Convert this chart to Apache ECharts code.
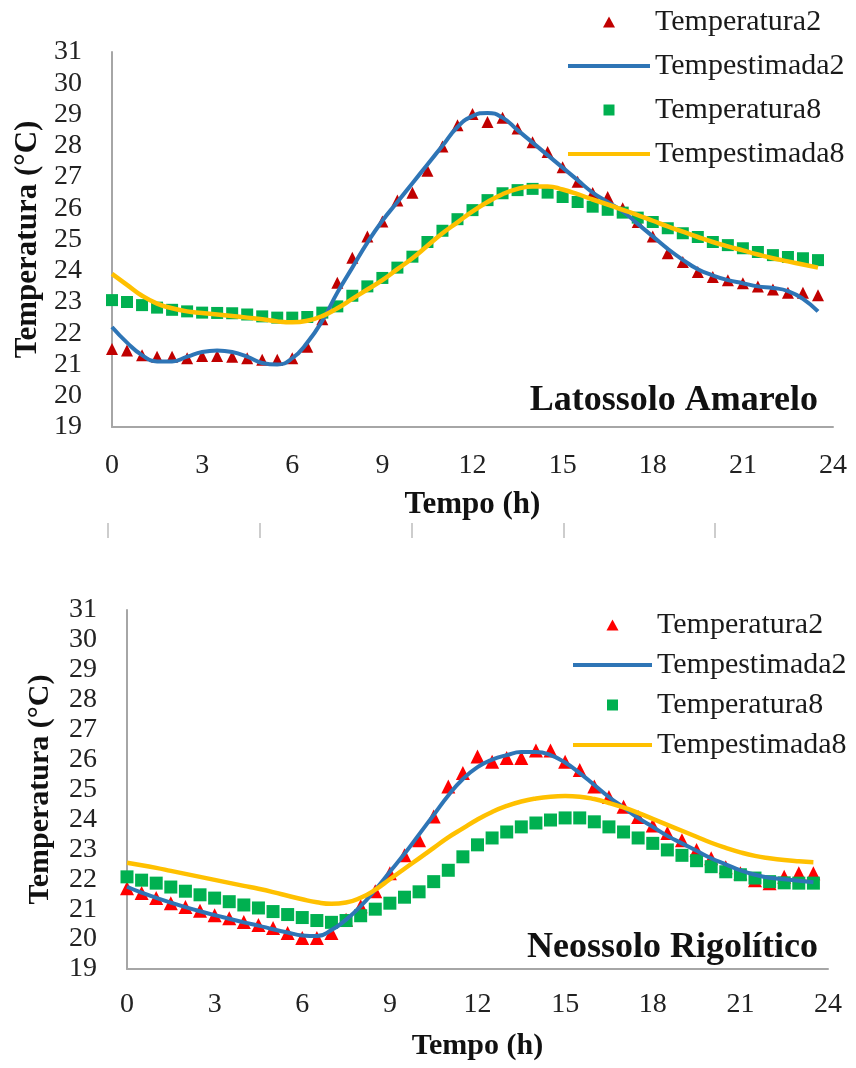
<!DOCTYPE html>
<html>
<head>
<meta charset="utf-8">
<script src="https://cdn.jsdelivr.net/npm/echarts@6/dist/echarts.min.js"></script>
<style>
  html, body { margin: 0; padding: 0; background: #fff; }
  #chart { width: 856px; height: 1068px; }
</style>
</head>
<body>
<div id="chart"></div>
<script>
// time of day (h), one reading every half hour
const hours = [0, 0.5, 1, 1.5, 2, 2.5, 3, 3.5, 4, 4.5, 5, 5.5, 6, 6.5, 7, 7.5, 8, 8.5, 9, 9.5,
  10, 10.5, 11, 11.5, 12, 12.5, 13, 13.5, 14, 14.5, 15, 15.5, 16, 16.5, 17, 17.5, 18, 18.5, 19, 19.5,
  20, 20.5, 21, 21.5, 22, 22.5, 23, 23.5];
const xTicks = [0, 3, 6, 9, 12, 15, 18, 21, 24];
const yTicks = [19, 20, 21, 22, 23, 24, 25, 26, 27, 28, 29, 30, 31];

// Latossolo Amarelo
const latTemp2 = [21.5, 21.45, 21.3, 21.25, 21.25, 21.2, 21.27, 21.27, 21.25, 21.2,
  21.15, 21.15, 21.2, 21.57, 22.45, 23.62, 24.42, 25.1, 25.58, 26.25,
  26.5, 27.2, 27.98, 28.66, 29.02, 28.76, 28.9, 28.55, 28.11, 27.8,
  27.31, 26.85, 26.49, 26.36, 26.0, 25.56, 25.1, 24.56, 24.28, 23.96,
  23.8, 23.7, 23.6, 23.5, 23.4, 23.3, 23.3, 23.22];
const latEst2 = [22.2, 21.7, 21.3, 21.1, 21.1, 21.25, 21.4, 21.45, 21.4, 21.25,
  21.05, 21.0, 21.2, 21.7, 22.4, 23.3, 24.1, 24.9, 25.6, 26.2,
  26.8, 27.4, 28.0, 28.6, 28.95, 29.05, 28.9, 28.5, 28.1, 27.7,
  27.3, 26.9, 26.5, 26.2, 25.9, 25.5, 25.1, 24.7, 24.35, 24.05,
  23.85, 23.7, 23.6, 23.5, 23.45, 23.35, 23.1, 22.7];
const latTemp8 = [23.06, 23.0, 22.9, 22.82, 22.75, 22.7, 22.66, 22.65, 22.64, 22.6,
  22.54, 22.5, 22.5, 22.52, 22.66, 22.86, 23.2, 23.5, 23.77, 24.1,
  24.45, 24.92, 25.28, 25.65, 25.94, 26.26, 26.48, 26.58, 26.62, 26.5,
  26.36, 26.2, 26.05, 25.95, 25.86, 25.7, 25.56, 25.36, 25.2, 25.08,
  24.92, 24.82, 24.72, 24.6, 24.5, 24.44, 24.4, 24.34];
const latEst8 = [23.9, 23.55, 23.2, 22.95, 22.8, 22.7, 22.65, 22.6, 22.55, 22.5,
  22.45, 22.38, 22.35, 22.4, 22.55, 22.8, 23.1, 23.4, 23.7, 24.05,
  24.4, 24.8, 25.2, 25.55, 25.9, 26.2, 26.45, 26.62, 26.7, 26.7,
  26.6, 26.45, 26.28, 26.12, 25.95, 25.78, 25.6, 25.42, 25.25, 25.08,
  24.92, 24.78, 24.65, 24.52, 24.4, 24.3, 24.2, 24.1];

// Neossolo Regolítico
const neoTemp2 = [21.7, 21.54, 21.37, 21.2, 21.07, 20.95, 20.8, 20.7, 20.57, 20.47,
  20.37, 20.2, 20.04, 20.04, 20.2, 20.65, 21.1, 21.6, 22.2, 22.8,
  23.3, 24.1, 25.1, 25.55, 26.1, 25.93, 26.05, 26.05, 26.3, 26.3,
  25.93, 25.65, 25.1, 24.75, 24.42, 24.08, 23.8, 23.55, 23.3, 22.98,
  22.7, 22.4, 22.2, 21.97, 21.87, 22.08, 22.2, 22.2];
const neoEst2 = [21.75, 21.55, 21.38, 21.22, 21.07, 20.93, 20.8, 20.68, 20.56, 20.45,
  20.33, 20.22, 20.12, 20.1, 20.3, 20.65, 21.1, 21.65, 22.25, 22.85,
  23.5, 24.15, 24.8, 25.35, 25.75, 26.0, 26.15, 26.25, 26.25, 26.15,
  25.9, 25.55, 25.15, 24.75, 24.4, 24.05, 23.75, 23.45, 23.2, 22.95,
  22.7, 22.5, 22.3, 22.15, 22.05, 22.0, 21.95, 21.9];
const neoTemp8 = [22.08, 21.97, 21.87, 21.74, 21.6, 21.48, 21.37, 21.25, 21.14, 21.04,
  20.92, 20.82, 20.72, 20.62, 20.56, 20.62, 20.78, 21.0, 21.2, 21.4,
  21.58, 21.92, 22.3, 22.75, 23.15, 23.38, 23.58, 23.75, 23.88, 23.98,
  24.05, 24.05, 23.92, 23.75, 23.58, 23.38, 23.2, 22.98, 22.8, 22.62,
  22.42, 22.25, 22.15, 22.04, 21.92, 21.88, 21.87, 21.87];
const neoEst8 = [22.55, 22.47, 22.38, 22.28, 22.18, 22.08, 21.98, 21.88, 21.78, 21.68,
  21.57, 21.45, 21.33, 21.23, 21.18, 21.22, 21.38, 21.65, 22.0, 22.35,
  22.7, 23.05, 23.4, 23.7, 24.0, 24.25, 24.45, 24.6, 24.7, 24.76,
  24.78, 24.76, 24.68, 24.55, 24.4, 24.22, 24.02, 23.82, 23.62, 23.42,
  23.22, 23.05, 22.9, 22.78, 22.7, 22.64, 22.6, 22.57];

const SERIF = "'Liberation Serif', 'DejaVu Serif', serif";
const BLUE = '#2E75B6';
const YELLOW = '#FFC000';
const GREEN = '#00B050';
// legend icons (paths keep their aspect ratio inside the icon box)
const LINE_ICON = 'path://M0,0H80V4H0Z';
const TRI_ICON = 'path://M0,11L6,0L12,11Z';
const SQ_ICON = 'path://M0,0H10V10H0Z';

const pairs = (vals) => hours.map((h, i) => [h, vals[i]]);

const xAxisFor = (gridIndex, margin, gap, nameSize) => ({
  gridIndex: gridIndex,
  type: 'value',
  min: xTicks[0],
  max: xTicks[xTicks.length - 1],
  interval: xTicks[1] - xTicks[0],
  name: 'Tempo (h)',
  nameLocation: 'middle',
  nameGap: gap,
  nameTextStyle: { fontFamily: SERIF, fontSize: nameSize, fontWeight: 'bold', color: '#111' },
  axisLine: { show: true, lineStyle: { color: '#A6A6A6', width: 2 } },
  axisTick: { show: false },
  splitLine: { show: false },
  axisLabel: { fontFamily: SERIF, fontSize: 28, color: '#222', margin: margin }
});

const yAxisFor = (gridIndex, gap, size) => ({
  gridIndex: gridIndex,
  type: 'value',
  min: yTicks[0],
  max: yTicks[yTicks.length - 1],
  interval: 1,
  name: 'Temperatura (°C)',
  nameLocation: 'middle',
  nameRotate: 90,
  nameGap: gap,
  nameTextStyle: { fontFamily: SERIF, fontSize: size, fontWeight: 'bold', color: '#111' },
  axisLine: { show: true, lineStyle: { color: '#A6A6A6', width: 2 } },
  axisTick: { show: false },
  splitLine: { show: false },
  axisLabel: { fontFamily: SERIF, fontSize: 28, color: '#222', margin: 30 }
});

const legendFor = (left, top, gap, iconW, red) => ({
  orient: 'vertical',
  left: left,
  top: top,
  itemWidth: iconW,
  itemHeight: 11,
  itemGap: gap,
  selectedMode: false,
  textStyle: { fontFamily: SERIF, fontSize: 30, color: '#1a1a1a' },
  data: [
    { name: 'Temperatura2', icon: TRI_ICON, itemStyle: { color: red } },
    { name: 'Tempestimada2', icon: LINE_ICON, itemStyle: { color: BLUE } },
    { name: 'Temperatura8', icon: SQ_ICON, itemStyle: { color: GREEN } },
    { name: 'Tempestimada8', icon: LINE_ICON, itemStyle: { color: YELLOW } }
  ]
});

const seriesFor = (idx, est2, est8, temp2, temp8, red, triSize, sqSize) => [
  {
    name: 'Tempestimada2', type: 'line', xAxisIndex: idx, yAxisIndex: idx,
    data: pairs(est2), smooth: true, symbol: 'none',
    lineStyle: { color: BLUE, width: 4 }, itemStyle: { color: BLUE }
  },
  {
    name: 'Tempestimada8', type: 'line', xAxisIndex: idx, yAxisIndex: idx,
    data: pairs(est8), smooth: true, symbol: 'none',
    lineStyle: { color: YELLOW, width: 4.5 }, itemStyle: { color: YELLOW }
  },
  {
    name: 'Temperatura2', type: 'scatter', xAxisIndex: idx, yAxisIndex: idx,
    data: pairs(temp2), symbol: 'triangle', symbolSize: triSize,
    itemStyle: { color: red, opacity: 1 }
  },
  {
    name: 'Temperatura8', type: 'scatter', xAxisIndex: idx, yAxisIndex: idx,
    data: pairs(temp8), symbol: 'rect', symbolSize: sqSize,
    itemStyle: { color: GREEN, opacity: 1 }
  }
];

const chart = echarts.init(document.getElementById('chart'), null, { renderer: 'canvas' });

const option = {
  animation: false,
  backgroundColor: '#fff',
  title: [
    {
      text: 'Latossolo Amarelo', right: 33, top: 378,
      textStyle: { fontFamily: SERIF, fontSize: 36, fontWeight: 'bold', color: '#111' }
    },
    {
      text: 'Neossolo Rigolítico', right: 33, top: 925,
      textStyle: { fontFamily: SERIF, fontSize: 36, fontWeight: 'bold', color: '#111' }
    }
  ],
  legend: [
    legendFor(563, 2, 14, 82, '#C00000'),
    legendFor(568, 605, 10, 79, '#FF0000')
  ],
  grid: [
    { left: 112, top: 52, width: 721, height: 375, outerBoundsMode: 'none' },
    { left: 127, top: 610, width: 701, height: 359, outerBoundsMode: 'none' },
    // faint tick marks of a cropped axis between the two panels
    { left: 108, top: 522, width: 607, height: 1, outerBoundsMode: 'none' }
  ],
  xAxis: [
    xAxisFor(0, 25, 62, 31),
    xAxisFor(1, 22, 62, 30),
    {
      gridIndex: 2, type: 'value', min: 0, max: 4, interval: 1,
      axisLine: { show: false },
      axisTick: { show: true, length: 15, lineStyle: { color: '#BDBDBD', width: 1.5 } },
      axisLabel: { show: false },
      splitLine: { show: false }
    }
  ],
  yAxis: [
    yAxisFor(0, 69, 31),
    yAxisFor(1, 72, 30),
    { gridIndex: 2, type: 'value', show: false }
  ],
  series: [
    ...seriesFor(0, latEst2, latEst8, latTemp2, latTemp8, '#C00000', 12, 12),
    ...seriesFor(1, neoEst2, neoEst8, neoTemp2, neoTemp8, '#FF0000', 14, 13)
  ]
};

chart.setOption(option);
window.addEventListener('resize', () => {
  chart.resize();
});
</script>
</body>
</html>
